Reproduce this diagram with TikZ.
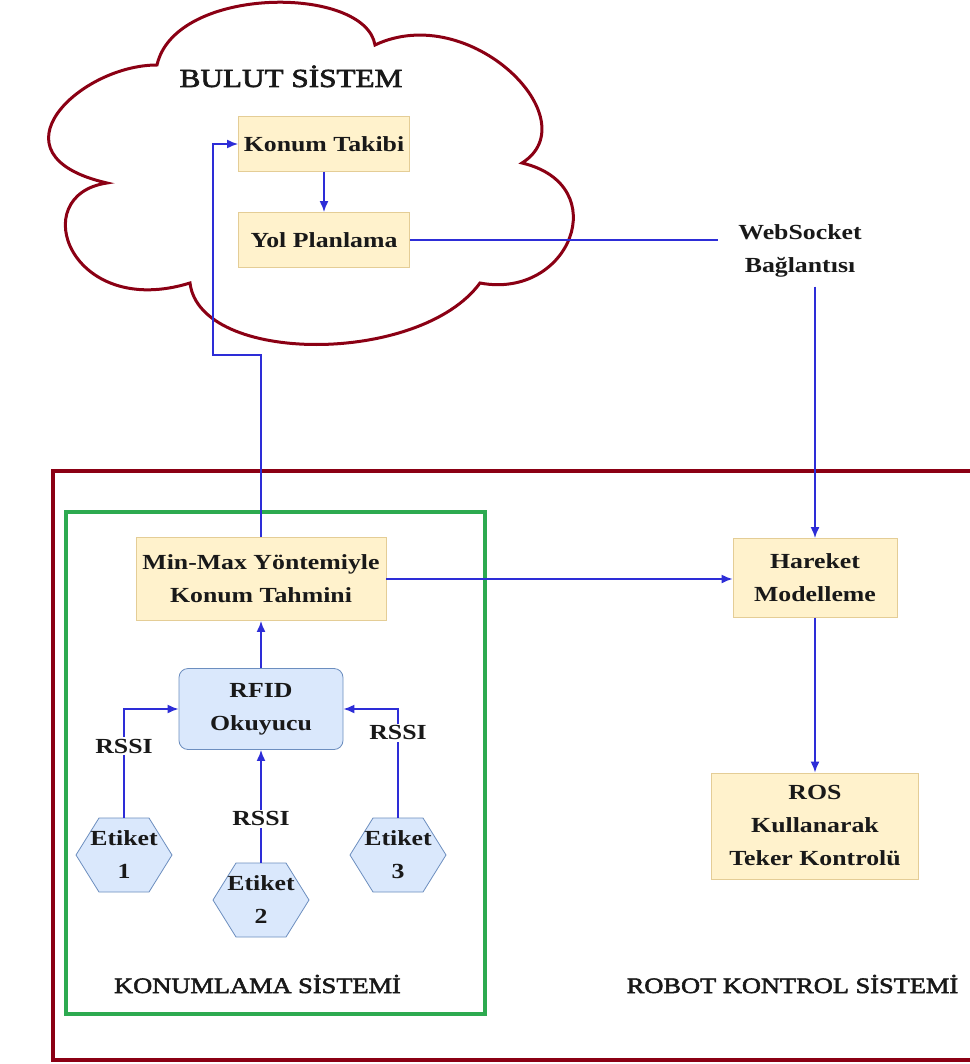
\documentclass[tikz,border=0pt]{standalone}
\usepackage{fontspec}
\setmainfont{Liberation Serif}[FakeStretch=1.2]
\newfontfamily\titlefam{Liberation Serif}[FakeStretch=1.2, FakeBold=2.5]
\usetikzlibrary{arrows.meta}

\definecolor{cloudred}{RGB}{139,0,20}
\definecolor{framegreen}{RGB}{45,170,80}
\definecolor{wireblue}{RGB}{45,45,215}
\definecolor{procfill}{RGB}{255,242,204}
\definecolor{procline}{RGB}{228,205,150}
\definecolor{devfill}{RGB}{218,232,252}
\definecolor{devline}{RGB}{108,142,191}
\definecolor{ink}{RGB}{25,25,25}

\newcommand\nodefont{\fontsize{21.5}{33}\selectfont\bfseries}
\newcommand\titlefont{\titlefam\fontsize{22}{26}\selectfont}
\newcommand\bigtitlefont{\titlefam\fontsize{26}{30}\selectfont}

% hexagonal tag outline centred at (#1,#2)
\newcommand\tagshape[2]{%
  \draw[devline, fill=devfill, line width=0.8pt, shift={(#1,#2)}]
    (-48,0) -- (-25,-37) -- (25,-37) -- (48,0) -- (25,37) -- (-25,37) -- cycle;}

\begin{document}
\begin{tikzpicture}[x=1pt, y=-1pt,
  every node/.style={text=ink},
  procbox/.style={draw=procline, fill=procfill, line width=0.8pt,
    font=\nodefont, align=center, inner sep=0pt},
  devbox/.style={draw=devline, fill=devfill, line width=0.8pt,
    rounded corners=9pt, font=\nodefont, align=center, inner sep=0pt},
  tagnode/.style={minimum width=96pt, minimum height=74pt, inner sep=0pt,
    font=\nodefont, align=center},
  wire/.style={draw=wireblue, line width=1.8pt},
  arr/.style={wire, -{Latex[length=11pt, width=9pt]}},
  lbl/.style={fill=white, inner sep=1.5pt, font=\nodefont},
  plain/.style={font=\nodefont, align=center}
]
\useasboundingbox (0,0) rectangle (969,1064);
\fill[white] (0,0) rectangle (969,1064);

% cloud outline
\draw[cloudred, line width=3pt, line join=miter]
  (157,65) .. controls (80,65) and (-15,155) .. (107,183)
  .. controls (25,195) and (70,320) .. (190,283)
  .. controls (200,365) and (420,365) .. (480,283)
  .. controls (570,300) and (615,185) .. (522,163)
  .. controls (590,120) and (470,0) .. (375,45)
  .. controls (365,-15) and (175,-15) .. (157,65) -- cycle;

% system frames
\draw[cloudred, line width=4pt] (53,471) rectangle (990,1060);
\draw[framegreen, line width=4pt] (66,512) rectangle (485,1014);

% titles
\node[anchor=base, font=\bigtitlefont] (bulut) at (291,87) {BULUT SİSTEM};
\node[anchor=base, font=\titlefont] (konumlama) at (257.5,993) {KONUMLAMA SİSTEMİ};
\node[anchor=base, font=\titlefont] (robot) at (792.5,993) {ROBOT KONTROL SİSTEMİ};

% cloud services
\node[procbox, minimum width=171pt, minimum height=55pt] (kt) at (324,144) {Konum Takibi};
\node[procbox, minimum width=171pt, minimum height=55pt] (yp) at (324,240) {Yol Planlama};

% link label
\node[plain, inner xsep=20pt, inner ysep=9pt] (ws) at (800,251) {WebSocket\\Bağlantısı};

% localisation
\node[procbox, minimum width=250pt, minimum height=83pt] (mm) at (261,579) {Min-Max Yöntemiyle\\Konum Tahmini};
\node[devbox, minimum width=164pt, minimum height=81pt] (rfid) at (261,709) {RFID\\Okuyucu};

\tagshape{124}{855}
\tagshape{261}{900}
\tagshape{398}{855}
\node[tagnode] (e1) at (124,855) {Etiket\\1};
\node[tagnode] (e2) at (261,900) {Etiket\\2};
\node[tagnode] (e3) at (398,855) {Etiket\\3};

% robot control
\node[procbox, minimum width=164pt, minimum height=79pt] (har) at (815,578) {Hareket\\Modelleme};
\node[procbox, minimum width=207pt, minimum height=106pt] (ros) at (815,826) {ROS\\Kullanarak\\Teker Kontrolü};

% connectors
\coordinate (up) at (213,355);
\draw[arr] (mm.north) |- (up) |- (kt.west);
\draw[arr] (kt.south) -- (yp.north);
\draw[wire] (yp.east) -- (yp.east -| ws.west);
\draw[arr] (ws.south -| har.north) -- (har.north);
\draw[arr] (mm.east) -- (mm.east -| har.west);
\draw[arr] (har.south) -- (ros.north);
\draw[arr] (rfid.north) -- (mm.south);
\draw[arr] (e1.north) |- (rfid.west) node[lbl, pos=0.33] {RSSI};
\draw[arr] (e2.north) -- (rfid.south) node[lbl, pos=0.39] {RSSI};
\draw[arr] (e3.north) |- (rfid.east) node[lbl, pos=0.39] {RSSI};
\end{tikzpicture}
\end{document}
